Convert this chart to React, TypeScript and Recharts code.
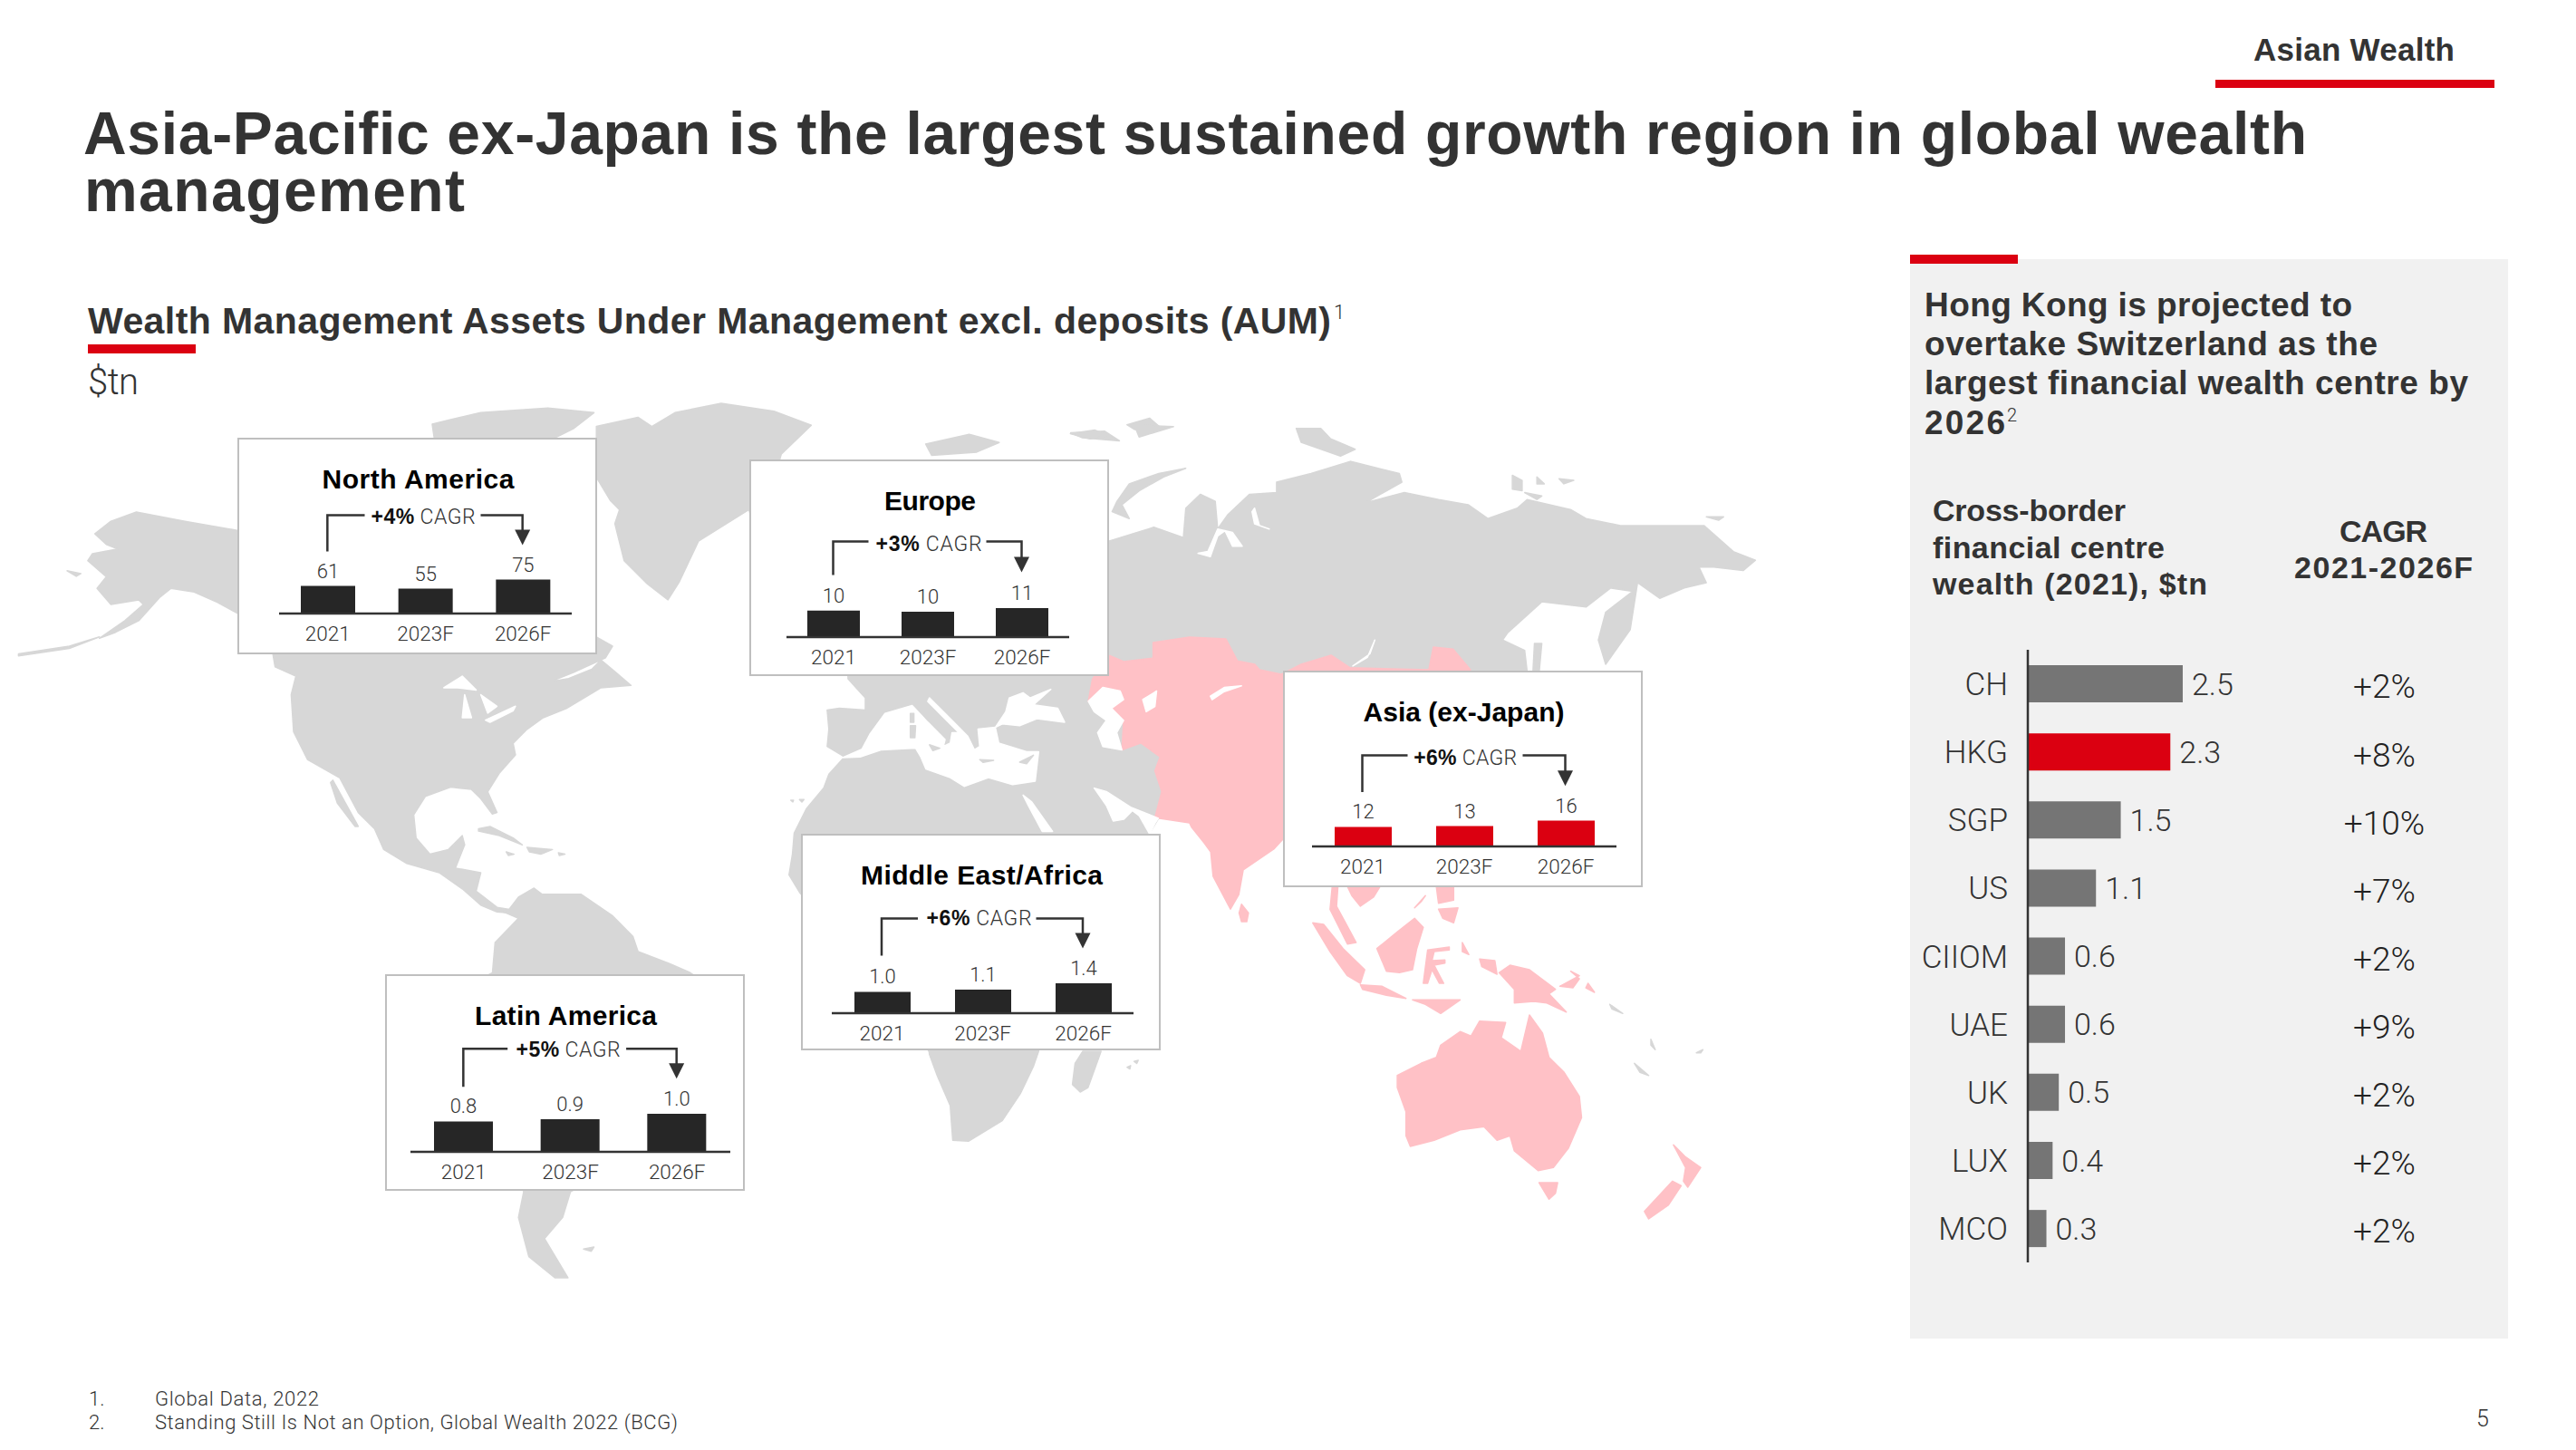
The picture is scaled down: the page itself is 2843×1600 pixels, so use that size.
import React from 'react';
import { BarChart, Bar, XAxis, YAxis, Cell, LabelList } from 'recharts';

const years = ['2021', '2023F', '2026F'];
const northAmericaValues = [61, 55, 75];
const europeValues = [10.2, 9.8, 11.2];
const asiaValues = [12.1, 12.6, 16];
const middleEastValues = [1.0, 1.1, 1.4];
const latinAmericaValues = [0.8, 0.86, 1.0];

const centres = ['CH', 'HKG', 'SGP', 'US', 'CIIOM', 'UAE', 'UK', 'LUX', 'MCO'];
const centreWealth = [2.5, 2.3, 1.5, 1.1, 0.6, 0.6, 0.5, 0.4, 0.3];
const centreCagr = ['+2%', '+8%', '+10%', '+7%', '+2%', '+9%', '+2%', '+2%', '+2%'];

const RED = '#db0011';
const INK = '#333333';
const FONT = 'Roboto, sans-serif';
const HEAD = '"Liberation Sans", Arial, sans-serif';
const GREY_LAND = '#d7d7d7';
const PINK_LAND = '#ffc1c6';

// each map outline is traced in the frame of one crop: x = ox + px / sx, y = oy + py / sy
type Frame = [number, number, number, number];
const NA: Frame = [0, 440, 1.96, 1.96];
const EU: Frame = [800, 640, 2.613, 2.613];
const RU: Frame = [1100, 400, 1.845, 2.613];
const OC: Frame = [1200, 900, 2.09, 3];
const SA: Frame = [400, 900, 1.742, 3];
const TL: Frame = [0, 240, 1.206, 2.8];

const grey: [Frame, string][] = [
  [NA, '205,292;240,265;295,245;400,265;515,285;560,150;800,110;1000,110;1200,200;1290,400;1290,515;1325,535;1310,560;1240,592;1190,612;1230,605;1280,585;1300,565;1330,590;1365,620;1300,625;1225,670;1175,690;1140,715;1110,745;1115,770;1080,810;1055,850;1075,895;1065,898;1040,865;1020,845;975,840;920,860;895,900;900,950;930,985;970,975;1000,945;1005,965;985,1015;1040,1025;1030,1065;1075,1100;1105,1105;1100,1112;1075,1110;1040,1095;1000,1060;950,1025;880,1005;830,975;810,930;775,895;735,820;665,780;635,720;630,640;640,600;595,580;590,550;515,465;470,440;420,418;370,410;345,430;300,480;250,505;215,518;270,480;310,445;300,435;240,445;210,410;230,385;190,350;200,335;255,325;230,315'],
  [NA, '720,825;775,925;768,925;730,875;715,830'],
  [NA, '215,515;150,540;40,556;40,552;150,535'],
  [NA, '145,372;175,378;165,384'],
  [NA, '935,55;975,45;1040,30;1185,20;1285,30;1240,65;1190,90;940,90'],
  [NA, '1290,170;1290,60;1380,40;1410,60;1460,30;1560,10;1674,27;1755,57;1690,120;1640,300;1620,240;1511,308;1470,395;1445,435;1400,400;1350,350;1340,310;1330,270;1340,240;1320,220'],
  [NA, '1035,930;1060,925;1110,950;1130,965;1080,945;1035,935'],
  [NA, '1140,970;1195,975;1170,985;1145,980'],
  [NA, '1095,980;1112,985;1100,988'],
  [NA, '1208,982;1222,985;1210,988'],
  [SA, '235,295;280,315;300,270;330,240;345,260;420,260;480,330;520,400;530,450;590,490;630,520;700,600;680,800;600,1000;500,1150;400,1245;385,1330;350,1400;395,1530;370,1530;320,1460;300,1330;310,1245;250,1000;150,800;100,650;250,520;255,420;300,340;280,325'],
  [SA, '425,1435;445,1428;440,1442'],
  [TL, '1232,700;1290,670;1330,695;1300,725;1240,735'],
  [TL, '1425,665;1470,660;1490,690;1440,680'],
  [TL, '1500,640;1530,620;1545,650;1510,655'],
  [RU, '228,515;320,475;380,505;385,420;415,380;445,400;450,480;470,440;515,380;570,375;570,345;640,320;720,285;820,320;825,345;750,405;830,375;900,395;960,410;1000,450;1060,420;1080,395;1170,425;1200,450;1270,470;1340,470;1440,470;1500,545;1545,570;1520,600;1460,590;1430,590;1445,635;1400,650;1350,680;1305,635;1300,680;1290,770;1240,870;1225,800;1240,720;1295,660;1250,650;1200,705;1110,690;1040,780;1030,800;1075,830;1080,890;1000,900;230,900'],
  [RU, '385,305;330,320;270,350;245,400;235,430;270,450;255,410;290,370;340,330'],
  [RU, '150,205;200,195;230,210;190,220'],
  [RU, '280,180;360,185;290,215'],
  [RU, '610,190;660,190;680,220;730,250;700,270;620,230'],
  [RU, '1050,325;1070,340;1070,370;1050,365'],
  [RU, '1100,330;1115,350;1100,350'],
  [RU, '1145,335;1175,340;1155,350'],
  [RU, '1075,375;1110,385;1100,395'],
  [RU, '1445,445;1480,445;1470,455'],
  [RU, '1095,810;1110,810;1105,888;1092,888'],
  [EU, '355,-100;1300,-100;1300,660;1250,688;1225,730;1100,1000;900,1360;590,1360;300,1000;215,900;185,850;195,790;200,730;235,660;285,600;300,560;345,510;295,480;300,430;295,375;330,370;405,375;405,340;355,285'],
  [EU, '190,635;198,635;196,640'],
  [EU, '215,633;228,633;222,640'],
  [EU, '1160,1405;1170,1400;1168,1410'],
  [EU, '1180,1388;1192,1385;1188,1394'],
  [SA, '1085,700;1090,790;1105,860;1130,960;1135,1075;1165,1078;1230,1010;1265,920;1290,830;1300,780;1300,700'],
  [SA, '1385,780;1420,780;1395,900;1380,915;1365,890;1370,820'],
  [OC, '1262,820;1295,860;1275,850'],
  [OC, '1405,785;1420,775;1415,785'],
  [OC, '1300,740;1310,775;1300,760'],
  [OC, '1205,625;1235,655;1210,640'],
];

const pink: [Frame, string][] = [
  [EU, '1060,285;1110,218;1150,235;1235,225;1235,180;1340,165;1445,170;1478,233;1528,243;1542,259;1604,272;1662,243;1748,217;1803,253;2030,259;2043,193;2100,199;2150,259;2150,600;1620,740;1607,750;1583,776;1495,836;1482,907;1458,949;1408,854;1401,784;1382,758;1346,713;1340,700;1240,685;1260,610;1240,550;1255,510;1200,470;1145,490;1150,405;1115,370;1150,345;1140,320;1090,310;1048,350'],
  [EU, '1490,935;1510,960;1505,985;1490,985;1483,960'],
  [OC, '565,235;578,235;575,300;620,420;600,425;560,310'],
  [OC, '600,235;675,235;660,270;630,300;610,265'],
  [OC, '520,355;545,360;590,440;640,510;630,555;600,530;560,450'],
  [OC, '630,560;680,565;735,605;690,595;635,575'],
  [OC, '750,610;860,610;815,655;780,625'],
  [OC, '755,340;775,370;760,440;750,510;720,520;690,515;668,440;715,385'],
  [OC, '780,500;785,445;835,435;835,445;800,450;795,480;825,478;825,488;800,495;822,555;812,555;795,510;785,555;775,555'],
  [OC, '805,235;845,235;845,280;810,290'],
  [OC, '810,310;855,305;845,355;820,340'],
  [OC, '780,265;755,305;770,285'],
  [OC, '865,420;880,460;865,450'],
  [OC, '905,475;940,480;945,525;910,500'],
  [OC, '950,520;975,495;1020,510;1080,575;1065,590;1105,650;1060,620;1030,615;985,620;985,575'],
  [OC, '1090,565;1135,530;1115,515;1135,540;1120,570'],
  [OC, '1155,555;1170,585;1150,570'],
  [OC, '715,860;770,820;805,800;815,760;860,715;885,730;905,680;965,685;955,735;1000,780;1020,660;1050,720;1065,800;1100,850;1135,930;1140,1000;1110,1100;1075,1165;1040,1175;985,1110;975,1060;945,1075;915,1030;860,1040;800,1075;745,1095;735,1060;735,980;715,900'],
  [OC, '1042,1215;1085,1215;1080,1250;1065,1270'],
  [OC, '1352,1090;1380,1130;1415,1165;1385,1230;1375,1210;1380,1165'],
  [OC, '1350,1210;1370,1225;1340,1290;1295,1335;1285,1310'],
];

const water: [Frame, string][] = [
  [NA, '960,625;1000,600;1030,630;990,625'],
  [NA, '1005,640;1020,690;1000,690'],
  [NA, '1040,640;1075,665;1055,680'],
  [NA, '1050,695;1115,665;1110,675;1060,700'],
  [EU, '340,512;395,488;418,445;462,385;540,362;585,410;635,460;630,480;650,470;655,440;675,440;635,400;585,350;590,340;660,410;700,450;720,490;735,480;730,430;780,425;790,470;870,495;905,495;895,580;830,590;760,570;690,595;650,570;580,545;565,510;550,485;450,490;390,510'],
  [EU, '810,380;820,340;860,325;880,340;940,315;890,360;960,370;980,410;900,400;850,420;800,415;780,425'],
  [EU, '1048,350;1090,310;1140,320;1150,345;1115,370;1150,405;1130,440;1145,490;1090,480;1075,440;1100,405;1065,380'],
  [EU, '1205,345;1245,320;1240,365;1215,380'],
  [EU, '1400,335;1440,310;1490,305;1440,322;1405,345'],
  [EU, '860,620;885,640;945,725;915,725;875,650'],
  [EU, '1065,600;1100,610;1170,655;1250,687;1240,702;1225,733;1195,680;1175,665;1150,690;1120,695;1100,650'],
  [RU, '770,800;755,850;725,875;760,840'],
  [RU, '410,550;435,560;450,500;465,485;480,530;500,530;480,490;450,480;430,545'],
  [RU, '525,420;535,470;555,480;525,465;520,430'],
];

const islands: [Frame, string][] = [
  [EU, '590,475;620,485;600,492'],
  [EU, '535,420;550,420;548,455;535,455'],
  [EU, '535,385;545,385;545,410;535,410'],
  [EU, '735,518;775,520;745,526'],
  [EU, '850,525;890,505;870,530'],
];

const toPoints = ([ox, oy, sx, sy]: Frame, trace: string) =>
  trace.split(';').map((pair) => {
    const [x, y] = pair.split(',').map(Number);
    return `${(ox + x / sx).toFixed(1)},${(oy + y / sy).toFixed(1)}`;
  }).join(' ');

const T = ({ x, y, w, size, weight = 300, fill = INK, anchor = 'start', family = FONT, children }: any) => (
  <text x={x} y={y} fontFamily={family} fontSize={size} fontWeight={weight} fill={fill}
    textAnchor={anchor} textLength={w} lengthAdjust="spacing">{children}</text>
);

const H = (props: any) => <T family={HEAD} weight={700} {...props} />;

const land = (list: [Frame, string][], key: string, fill: string) =>
  list.map(([f, s], i) => (
    <polygon key={`${key}${i}`} points={toPoints(f, s)} fill={fill} stroke={fill} strokeWidth={1.5} strokeLinejoin="round" />
  ));

const WorldMap = () => (
  <svg width={2843} height={1600} style={{ position: 'absolute', left: 0, top: 0 }}>
    {land(grey, 'g', GREY_LAND)}
    {land(pink, 'p', PINK_LAND)}
    {land(water, 'w', '#ffffff')}
    {land(islands, 'i', GREY_LAND)}
  </svg>
);

const PLOT_H = 80;
const AXIS_H = 50;

const RegionPanel = ({ p }: any) => {
  const data = years.map((year, i) => ({ year, value: p.values[i] }));
  const band = (p.x1 - p.x0) / 3;
  const c0 = p.x0 - p.left + band / 2;
  const c2 = p.x0 - p.left + band * 2.5;
  return (
    <div style={{ position: 'absolute', left: p.left, top: p.top, width: 397, height: 239, boxSizing: 'border-box', background: '#fff', border: '2.5px solid #bfbfbf' }}>
      <div style={{ position: 'absolute', left: p.x0 - p.left - 2.5, top: p.base - p.top - PLOT_H - 2.5 }}>
        <BarChart width={p.x1 - p.x0} height={PLOT_H + AXIS_H} data={data} margin={{ top: 0, right: 0, bottom: 0, left: 0 }}>
          <XAxis dataKey="year" height={AXIS_H} tickLine={false} axisLine={{ stroke: INK, strokeWidth: 2.5 }} interval={0} tickMargin={8}
            tick={{ fontSize: 22.5, fill: INK, fontFamily: FONT, fontWeight: 300 }} />
          <YAxis hide domain={[0, p.yMax]} />
          <Bar dataKey="value" fill={p.color} barSize={p.barW} isAnimationActive={false}>
            <LabelList dataKey="value" position="top" offset={9} formatter={(v: number) => v.toFixed(p.digits)}
              fill={INK} fontSize={22} fontFamily={FONT} fontWeight={300} />
          </Bar>
        </BarChart>
      </div>
      <svg width={392} height={234} style={{ position: 'absolute', left: 0, top: 0, overflow: 'visible' }}>
        <g transform="translate(-2.5,-2.5)">
          <H x={200} y={56} w={p.titleW} size={30} fill="#000" anchor="middle">{p.title}</H>
          <path d={`M${c0} ${p.leftEnd}V${p.bracket}H${p.seg1}M${p.seg2} ${p.bracket}H${c2}V${p.tip - 16}`} fill="none" stroke={INK} strokeWidth={2.5} />
          <polygon points={`${c2 - 8.5},${p.tip - 17} ${c2 + 8.5},${p.tip - 17} ${c2},${p.tip}`} fill={INK} />
          <text x={p.textX} y={p.textY} fontSize={23} fill={INK} textLength={p.textW} lengthAdjust="spacing">
            <tspan fontFamily={HEAD} fontWeight={700} fill="#111">{p.cagr}</tspan>
            <tspan fontFamily={FONT} fontWeight={300}> CAGR</tspan>
          </text>
        </g>
      </svg>
    </div>
  );
};

const panels = [
  { title: 'North America', titleW: 212, cagr: '+4%', values: northAmericaValues, digits: 0, color: '#262626', left: 262, top: 483, x0: 308, x1: 631, base: 677.5, barW: 60, yMax: 160, bracket: 86, leftEnd: 126, tip: 119, textX: 148, textY: 95, textW: 115, seg1: 141, seg2: 269 },
  { title: 'Europe', titleW: 101, cagr: '+3%', values: europeValues, digits: 0, color: '#262626', left: 827, top: 507, x0: 868, x1: 1180, base: 703, barW: 58, yMax: 28, bracket: 91, leftEnd: 128, tip: 125, textX: 140, textY: 101, textW: 117, seg1: 132, seg2: 262 },
  { title: 'Asia (ex-Japan)', titleW: 222, cagr: '+6%', values: asiaValues, digits: 0, color: RED, left: 1416, top: 740, x0: 1448, x1: 1784, base: 934.6, barW: 63, yMax: 45, bracket: 94, leftEnd: 134.5, tip: 127.7, textX: 144.7, textY: 104, textW: 114, seg1: 138, seg2: 265 },
  { title: 'Middle East/Africa', titleW: 267, cagr: '+6%', values: middleEastValues, digits: 1, color: '#262626', left: 884, top: 920, x0: 918, x1: 1251, base: 1118, barW: 62, yMax: 3.4, bracket: 94, leftEnd: 135, tip: 127, textX: 139, textY: 101, textW: 116, seg1: 129.5, seg2: 260 },
  { title: 'Latin America', titleW: 201, cagr: '+5%', values: latinAmericaValues, digits: 1, color: '#262626', left: 425, top: 1075, x0: 453, x1: 806, base: 1271, barW: 65, yMax: 1.905, bracket: 82.7, leftEnd: 124.7, tip: 115.7, textX: 145, textY: 91.7, textW: 115, seg1: 135.7, seg2: 266.6 },
];

const wealthData = centres.map((name, i) => ({ name, value: centreWealth[i] }));
const ROW_TOP = 716.8;
const ROW_H = 75.14;

const CentreChart = () => (
  <div style={{ position: 'absolute', left: 2108, top: ROW_TOP }}>
    <BarChart width={660} height={ROW_H * 9} data={wealthData} layout="vertical" margin={{ top: 0, right: 0, bottom: 0, left: 0 }}>
      <XAxis type="number" hide domain={[0, 7.75]} />
      <YAxis type="category" dataKey="name" width={130} tickLine={false} interval={0} tickMargin={16}
        axisLine={{ stroke: INK, strokeWidth: 2.5 }}
        tick={{ fontSize: 35, fill: INK, fontFamily: FONT, fontWeight: 300 }} />
      <Bar dataKey="value" barSize={41} isAnimationActive={false}>
        {wealthData.map((d) => <Cell key={d.name} fill={d.name === 'HKG' ? RED : '#757575'} />)}
        <LabelList dataKey="value" position="right" offset={10} formatter={(v: number) => v.toFixed(1)}
          fill={INK} fontSize={34} fontFamily={FONT} fontWeight={300} />
      </Bar>
    </BarChart>
  </div>
);

const PageText = () => (
  <svg width={2843} height={1600} style={{ position: 'absolute', left: 0, top: 0, pointerEvents: 'none' }}>
    <H x={2487} y={67} w={222} size={35}>Asian Wealth</H>
    <rect x={2445} y={88} width={308} height={9} fill={RED} />
    <H x={92} y={170} w={2454} size={66}>Asia-Pacific ex-Japan is the largest sustained growth region in global wealth</H>
    <H x={93} y={233} w={420} size={66}>management</H>
    <H x={97} y={368} w={1372} size={41}>Wealth Management Assets Under Management excl. deposits (AUM)</H>
    <T x={1472} y={352} size={22}>1</T>
    <rect x={97} y={380} width={119} height={10} fill={RED} />
    <T x={97} y={435} w={56} size={40}>$tn</T>

    <rect x={2108} y={281} width={119} height={10} fill={RED} />
    <H x={2124} y={348.5} w={472} size={37}>Hong Kong is projected to</H>
    <H x={2124} y={392} w={500} size={37}>overtake Switzerland as the</H>
    <H x={2124} y={434.6} w={600} size={37}>largest financial wealth centre by</H>
    <H x={2124} y={478.6} w={89} size={37}>2026</H>
    <T x={2215} y={465} size={20}>2</T>
    <H x={2133} y={575} w={213} size={34}>Cross-border</H>
    <H x={2133} y={615.6} w={256} size={34}>financial centre</H>
    <H x={2133} y={655.8} w={303} size={34}>wealth (2021), $tn</H>
    <H x={2630.6} y={598.4} w={97} size={34} anchor="middle">CAGR</H>
    <H x={2630.6} y={638} w={197} size={34} anchor="middle">2021-2026F</H>
    {centreCagr.map((label, i) => (
      <T key={i} x={2631.5} y={ROW_TOP + ROW_H * (i + 0.5) + 16} size={37} anchor="middle" fill="#222">{label}</T>
    ))}

    <T x={98} y={1550.7} size={22}>1.</T>
    <T x={171} y={1550.7} w={181} size={22}>Global Data, 2022</T>
    <T x={98} y={1576.7} size={22}>2.</T>
    <T x={171} y={1576.7} w={577} size={22}>Standing Still Is Not an Option, Global Wealth 2022 (BCG)</T>
    <T x={2733} y={1574} size={25}>5</T>
  </svg>
);

export default function App() {
  return (
    <div style={{ position: 'absolute', left: 0, top: 0, width: 2843, height: 1600, background: '#fff', overflow: 'hidden' }}>
      <WorldMap />
      <div style={{ position: 'absolute', left: 2108, top: 286, width: 660, height: 1191, background: '#f1f1f1' }} />
      {panels.map((p) => <RegionPanel key={p.title} p={p} />)}
      <CentreChart />
      <PageText />
    </div>
  );
}
